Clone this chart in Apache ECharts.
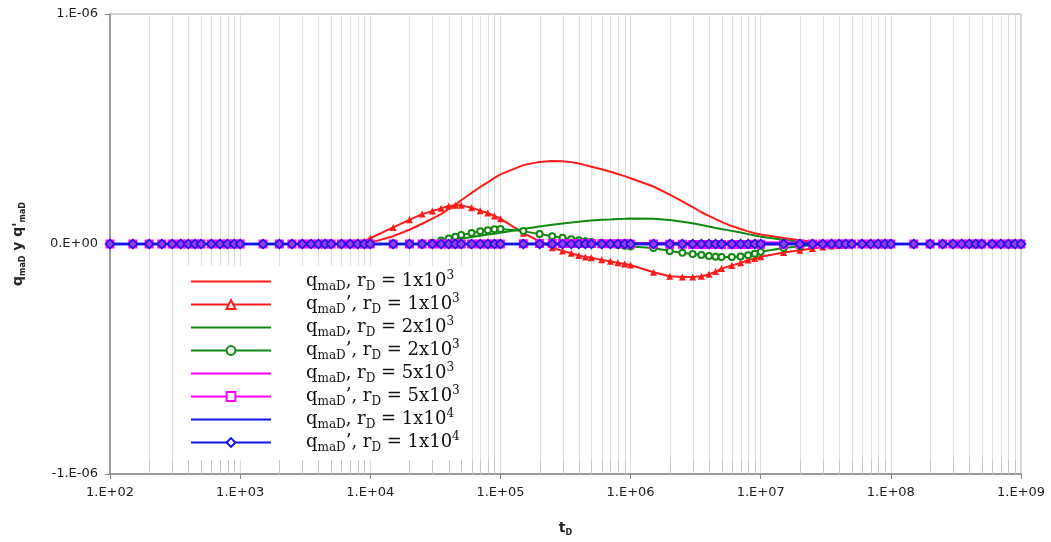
<!DOCTYPE html>
<html>
<head>
<meta charset="utf-8">
<script src="https://cdn.jsdelivr.net/npm/echarts@6/dist/echarts.min.js"></script>
<style>
html,body{margin:0;padding:0;background:#fff;}
#chart{width:1051px;height:542px;}
</style>
</head>
<body>
<div id="chart"></div>
<script>
// ---- Data (values in units of 1e-6) ----
const tD = [
  1e2,1.5e2,2e2,2.5e2,3e2,3.5e2,4e2,4.5e2,5e2,6e2,7e2,8e2,9e2,
  1e3,1.5e3,2e3,2.5e3,3e3,3.5e3,4e3,4.5e3,5e3,6e3,7e3,8e3,9e3,
  1e4,1.5e4,2e4,2.5e4,3e4,3.5e4,4e4,4.5e4,5e4,6e4,7e4,8e4,9e4,
  1e5,1.5e5,2e5,2.5e5,3e5,3.5e5,4e5,4.5e5,5e5,6e5,7e5,8e5,9e5,
  1e6,1.5e6,2e6,2.5e6,3e6,3.5e6,4e6,4.5e6,5e6,6e6,7e6,8e6,9e6,
  1e7,1.5e7,2e7,2.5e7,3e7,3.5e7,4e7,4.5e7,5e7,6e7,7e7,8e7,9e7,
  1e8,1.5e8,2e8,2.5e8,3e8,3.5e8,4e8,4.5e8,5e8,6e8,7e8,8e8,9e8,
  1e9
];
const qRd1e3 = [
  0,0,0,0,0,0,0,0,0,0,0,0,0,
  0,0,0,0,0,0,0,0,0,0,0,0,0.002,
  0.006,0.034,0.062,0.088,0.110,0.130,0.152,0.170,0.190,0.222,0.248,0.268,0.288,
  0.303,0.343,0.357,0.361,0.360,0.356,0.350,0.343,0.336,0.325,0.314,0.304,0.295,
  0.286,0.250,0.215,0.185,0.160,0.138,0.122,0.108,0.096,0.078,0.065,0.055,0.047,
  0.041,0.026,0.016,0.010,0.007,0.005,0.003,0.002,0.001,0,0,0,0,
  0,0,0,0,0,0,0,0,0,0,0,0,0,
  0
];
const dqRd1e3 = [
  0,0,0,0,0,0,0,0,0,0,0,0,0,
  0,0,0,0,0,0,0,0,0,0,0,0.003,0.012,
  0.025,0.072,0.105,0.130,0.143,0.155,0.165,0.168,0.168,0.158,0.145,0.135,0.122,
  0.110,0.047,0.012,-0.016,-0.030,-0.040,-0.050,-0.056,-0.060,-0.069,-0.075,-0.082,-0.087,
  -0.091,-0.123,-0.140,-0.143,-0.143,-0.140,-0.132,-0.120,-0.107,-0.093,-0.082,-0.070,-0.063,
  -0.055,-0.037,-0.027,-0.020,-0.013,-0.009,-0.006,-0.004,-0.002,-0.001,0,0,0,
  0,0,0,0,0,0,0,0,0,0,0,0,0,
  0
];
const qRd2e3 = [
  0,0,0,0,0,0,0,0,0,0,0,0,0,
  0,0,0,0,0,0,0,0,0,0,0,0,0,
  0,0,0,0,0.003,0.008,0.013,0.018,0.023,0.030,0.036,0.041,0.045,
  0.049,0.065,0.076,0.084,0.089,0.093,0.097,0.100,0.102,0.105,0.107,0.109,0.110,
  0.111,0.110,0.104,0.097,0.090,0.083,0.076,0.070,0.065,0.057,0.050,0.043,0.037,
  0.032,0.018,0.009,0.005,0.003,0.001,0,0,0,0,0,0,0,
  0,0,0,0,0,0,0,0,0,0,0,0,0,
  0
];
const dqRd2e3 = [
  0,0,0,0,0,0,0,0,0,0,0,0,0,
  0,0,0,0,0,0,0,0,0,0,0,0,0,
  0,0,0,0,0.005,0.015,0.024,0.032,0.039,0.048,0.055,0.060,0.064,
  0.065,0.056,0.043,0.034,0.027,0.021,0.016,0.012,0.009,0.004,0,-0.004,-0.008,
  -0.011,-0.017,-0.030,-0.038,-0.043,-0.048,-0.052,-0.055,-0.056,-0.056,-0.054,-0.049,-0.042,
  -0.034,-0.017,-0.010,-0.005,-0.002,0,0,0,0,0,0,0,0,
  0,0,0,0,0,0,0,0,0,0,0,0,0,
  0
];
const qRd5e3 = [
  0,0,0,0,0,0,0,0,0,0,0,0,0,
  0,0,0,0,0,0,0,0,0,0,0,0,0,
  0,0,0,0,0,0,0,0,0,0,0,0,0,
  0,0,0,0,0,0,0.001,0.001,0.002,0.002,0.003,0.003,0.003,
  0.004,0.004,0.005,0.005,0.006,0.006,0.006,0.007,0.007,0.007,0.008,0.008,0.008,
  0.008,0.007,0.006,0.005,0.004,0.003,0.002,0.002,0.001,0.001,0,0,0,
  0,0,0,0,0,0,0,0,0,0,0,0,0,
  0
];
const dqRd5e3 = [
  0,0,0,0,0,0,0,0,0,0,0,0,0,
  0,0,0,0,0,0,0,0,0,0,0,0,0,
  0,0,0,0,0,0,0,0,0,0,0,0,0,
  0,0.001,0.002,0.002,0.002,0.002,0.002,0.002,0.002,0.001,0.001,0.001,0.001,
  0,0,-0.001,-0.001,-0.002,-0.002,-0.002,-0.002,-0.002,-0.002,-0.002,-0.002,-0.001,
  -0.001,-0.001,0,0,0,0,0,0,0,0,0,0,0,
  0,0,0,0,0,0,0,0,0,0,0,0,0,
  0
];
const qRd1e4 = [
  0,0,0,0,0,0,0,0,0,0,0,0,0,
  0,0,0,0,0,0,0,0,0,0,0,0,0,
  0,0,0,0,0,0,0,0,0,0,0,0,0,
  0,0,0,0,0,0,0,0,0,0,0,0,0,
  0,0,0,0,0,0,0,0,0,0,0,0,0,
  0,0,0,0,0,0,0,0,0,0,0,0,0,
  0,0,0,0,0,0,0,0,0,0,0,0,0,
  0
];
const dqRd1e4 = [
  0,0,0,0,0,0,0,0,0,0,0,0,0,
  0,0,0,0,0,0,0,0,0,0,0,0,0,
  0,0,0,0,0,0,0,0,0,0,0,0,0,
  0,0,0,0,0,0,0,0,0,0,0,0,0,
  0,0,0,0,0,0,0,0,0,0,0,0,0,
  0,0,0,0,0,0,0,0,0,0,0,0,0,
  0,0,0,0,0,0,0,0,0,0,0,0,0,
  0
];
// legend texts
const rdBase = ['1x10','1x10','2x10','2x10','5x10','5x10','1x10','1x10'];
const rdExp  = ['3','3','3','3','3','3','4','4'];
const primed = [false,true,false,true,false,true,false,true];
const yTicks = [-1e-6, 0, 1e-6];
const xMin = 1e2, xMax = 1e9;

// ---- Chart ----
const SCALE = 1e-6;
const names = rdBase.map((b,i)=>'q_maD' + (primed[i] ? "'" : '') + ', r_D = ' + b + '^' + rdExp[i]);
function pairs(vals){ return tD.map((t,i)=>[t, vals[i]*SCALE]); }

const RED='#ff1a1a', GREEN='#118811', MAG='#ff00ff', BLUE='#1414e6';
const seriesDefs = [
  {vals:qRd1e3,  color:RED,   sym:'none'},
  {vals:dqRd1e3, color:RED,   sym:'triangle', size:7},
  {vals:qRd2e3,  color:GREEN, sym:'none'},
  {vals:dqRd2e3, color:GREEN, sym:'emptyCircle', size:6},
  {vals:qRd5e3,  color:MAG,   sym:'none'},
  {vals:dqRd5e3, color:MAG,   sym:'emptyRect', size:7},
  {vals:qRd1e4,  color:BLUE,  sym:'none'},
  {vals:dqRd1e4, color:BLUE,  sym:'diamond', size:9}
];

// minor gridline positions (axis structure)
const minorT = [];
for (let e = 2; e < 9; e++) for (let m = 2; m <= 9; m++) minorT.push(m * Math.pow(10, e));

const series = [{
  type:'custom', z:1, silent:true, animation:false,
  data: minorT.map(t=>[t, 0]),
  encode:{x:0, y:1},
  renderItem:(params, api)=>{
    const t = api.value(0);
    const top = api.coord([t, yTicks[2]]);
    const bot = api.coord([t, yTicks[0]]);
    const x = Math.round(top[0]) + 0.5;
    return {type:'group', children:[
      {type:'line', shape:{x1:x, y1:top[1], x2:x, y2:bot[1]}, style:{stroke:'#dedede', lineWidth:1}},
      {type:'line', shape:{x1:x, y1:bot[1]-14, x2:x, y2:bot[1]}, style:{stroke:'#c4c4c4', lineWidth:1}}
    ]};
  }
}];
seriesDefs.forEach((d,i)=>{
  const s = {
    name: names[i], type:'line', z: 2 + i, data: pairs(d.vals),
    lineStyle:{color:d.color, width: d.color===BLUE ? 2.5 : 2},
    itemStyle:{color:d.color},
    symbol: d.sym === 'none' ? 'circle' : d.sym,
    showSymbol: d.sym !== 'none',
    symbolSize: d.size || 0,
    emphasis:{disabled:true}
  };
  if (d.sym === 'emptyCircle') s.itemStyle = {color:d.color, borderWidth:1.5};
  if (d.sym === 'emptyRect') s.itemStyle = {color:d.color, borderWidth:1.5};
  if (d.sym === 'diamond') s.itemStyle = {color:'#9a3ce8', borderColor:BLUE, borderWidth:1.5};
  series.push(s);
});

const legendData = seriesDefs.map((d,i)=>{
  const item = {name: names[i]};
  if (d.sym === 'none') item.itemStyle = {opacity:0};
  else if (d.sym.indexOf('empty') === 0) item.itemStyle = {color:d.color, borderColor:d.color};
  else item.itemStyle = {color:'#ffffff', borderColor:d.color, borderWidth:2};
  return item;
});

const serif = 'DejaVu Serif';
const chart = echarts.init(document.getElementById('chart'), null, {renderer:'canvas'});
chart.setOption({
  animation:false,
  backgroundColor:'#ffffff',
  grid:{left:110, right:30, top:14, bottom:65, show:true, borderColor:'#a8a8a8', borderWidth:1, backgroundColor:'transparent'},
  xAxis:{
    type:'log', logBase:10, min:xMin, max:xMax,
    axisLine:{onZero:false, lineStyle:{color:'#888', width:1.5}},
    axisTick:{show:true, length:5, lineStyle:{color:'#888'}},
    axisLabel:{margin:12, color:'#222', fontFamily:'DejaVu Sans', fontSize:13,
      formatter:v=>'1.E+' + String(Math.round(Math.log10(v))).padStart(2,'0')},
    splitLine:{show:true, lineStyle:{color:'#dcdcdc', width:1}},
    name:'{b|t}{bs|D}', nameLocation:'middle', nameGap:45,
    nameTextStyle:{rich:{
      b:{fontFamily:'DejaVu Sans', fontWeight:'bold', fontSize:14, color:'#222', lineHeight:18},
      bs:{fontFamily:'DejaVu Sans', fontWeight:'bold', fontSize:8, color:'#222', lineHeight:8, verticalAlign:'bottom'}
    }}
  },
  yAxis:{
    type:'value', min:yTicks[0], max:yTicks[2], interval:1e-6,
    axisLine:{show:true, onZero:false, lineStyle:{color:'#888', width:1.5}},
    axisTick:{show:true, length:5, lineStyle:{color:'#888'}},
    splitLine:{show:false},
    axisLabel:{margin:12, color:'#222', fontFamily:'DejaVu Sans', fontSize:13,
      formatter:v=>{const k=Math.round(v/1e-6); return k===0?'0.E+00':(k>0?'1.E-06':'-1.E-06');}},
    name:"{b|q}{bs|maD}{b| y q'}{bs|maD}", nameLocation:'middle', nameRotate:90, nameGap:83,
    nameTextStyle:{rich:{
      b:{fontFamily:'DejaVu Sans', fontWeight:'bold', fontSize:14, color:'#222', lineHeight:18},
      bs:{fontFamily:'DejaVu Sans', fontWeight:'bold', fontSize:8, color:'#222', lineHeight:8, verticalAlign:'bottom'}
    }}
  },
  legend:{
    orient:'vertical', left:184, top:266, itemWidth:80, itemHeight:11, itemGap:0,
    padding:[4,12,6,6], backgroundColor:'#ffffff', selectedMode:false,
    data: legendData,
    formatter: name=>{
      const i = names.indexOf(name);
      return '{q|q}{s|maD}{n|' + (primed[i] ? '\u2019' : '') + ', r}{s|D}{n| = ' + rdBase[i] + '}{p|' + rdExp[i] + '}';
    },
    textStyle:{rich:{
      q:{fontFamily:serif, fontSize:18, color:'#111', lineHeight:23, padding:[0,0,0,30]},
      n:{fontFamily:serif, fontSize:18, color:'#111', lineHeight:23},
      s:{fontFamily:serif, fontSize:12, color:'#111', lineHeight:12, verticalAlign:'bottom'},
      p:{fontFamily:serif, fontSize:12, color:'#111', lineHeight:12, verticalAlign:'top'}
    }}
  },
  series: series
});
</script>
</body>
</html>
